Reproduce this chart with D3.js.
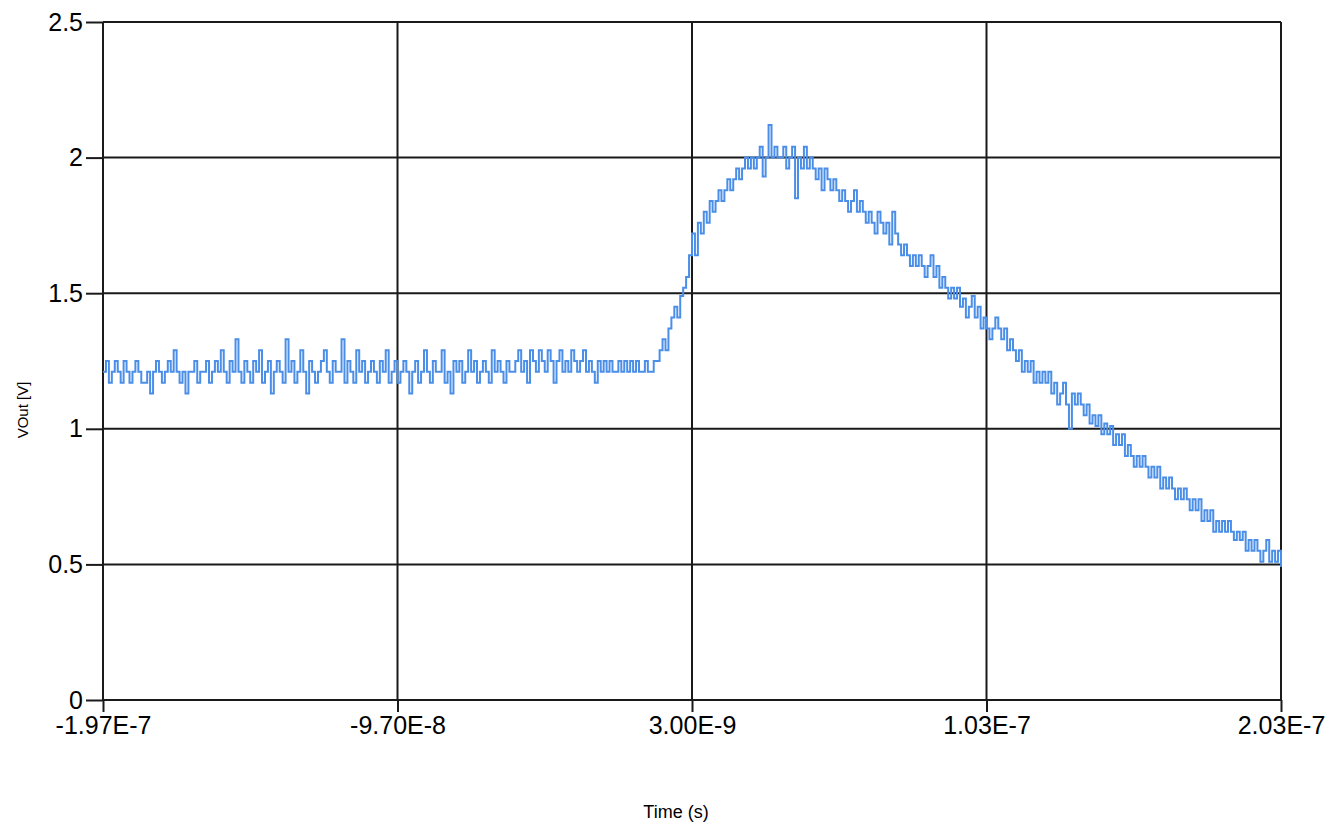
<!DOCTYPE html>
<html>
<head>
<meta charset="utf-8">
<script src="https://cdn.jsdelivr.net/npm/d3@7"></script>
<style>
  body { margin: 0; background: #fff; }
  .axis text { font-family: "Liberation Sans", Arial, sans-serif; fill: #000; }
  .axis path { display: none; }
</style>
</head>
<body>
<div id="chart"></div>
<script>
// sampling of the scope trace (1 ns per sample)
const tStart = -1.97e-7;
const tStep = 1e-9;

// VOut samples [V], 10 per row
const vOut = [
  1.21,1.25,1.17,1.21,1.25,1.21,1.17,1.25,1.21,1.17,
  1.21,1.25,1.21,1.17,1.17,1.21,1.13,1.21,1.25,1.21,
  1.17,1.21,1.25,1.21,1.29,1.21,1.17,1.21,1.13,1.21,
  1.21,1.25,1.17,1.21,1.21,1.25,1.17,1.21,1.25,1.21,
  1.29,1.21,1.17,1.25,1.21,1.33,1.21,1.17,1.25,1.21,
  1.17,1.25,1.21,1.29,1.17,1.21,1.25,1.13,1.21,1.25,
  1.21,1.17,1.33,1.21,1.25,1.17,1.21,1.29,1.21,1.13,
  1.25,1.21,1.17,1.21,1.25,1.29,1.21,1.17,1.25,1.21,
  1.21,1.33,1.17,1.25,1.21,1.17,1.29,1.21,1.25,1.17,
  1.21,1.25,1.21,1.17,1.25,1.21,1.29,1.17,1.21,1.25,
  1.17,1.21,1.25,1.21,1.13,1.21,1.25,1.17,1.21,1.29,
  1.21,1.17,1.25,1.21,1.21,1.29,1.17,1.21,1.13,1.25,
  1.21,1.25,1.17,1.21,1.29,1.21,1.25,1.17,1.21,1.25,
  1.21,1.17,1.29,1.21,1.25,1.21,1.17,1.25,1.21,1.21,
  1.25,1.29,1.21,1.25,1.17,1.29,1.25,1.21,1.29,1.25,
  1.21,1.29,1.25,1.17,1.25,1.29,1.21,1.25,1.21,1.29,
  1.25,1.21,1.25,1.29,1.21,1.25,1.21,1.17,1.25,1.21,
  1.25,1.21,1.25,1.21,1.21,1.25,1.21,1.25,1.21,1.25,
  1.21,1.25,1.21,1.21,1.25,1.21,1.21,1.25,1.25,1.29,
  1.33,1.29,1.37,1.41,1.45,1.41,1.49,1.52,1.56,1.64,
  1.72,1.64,1.76,1.72,1.80,1.76,1.84,1.80,1.84,1.88,
  1.84,1.88,1.92,1.88,1.92,1.96,1.92,1.96,2.00,1.96,
  2.00,1.96,2.00,2.04,1.93,2.00,2.12,2.00,2.04,2.00,
  2.00,2.04,1.96,2.00,2.04,1.85,2.00,1.96,2.04,1.96,
  2.00,1.96,1.92,1.96,1.88,1.96,1.92,1.88,1.92,1.88,
  1.84,1.88,1.84,1.80,1.84,1.88,1.80,1.84,1.80,1.76,
  1.80,1.76,1.72,1.80,1.76,1.72,1.76,1.68,1.80,1.72,
  1.68,1.64,1.68,1.64,1.60,1.64,1.60,1.64,1.60,1.56,
  1.60,1.64,1.56,1.60,1.52,1.56,1.52,1.48,1.52,1.48,
  1.52,1.45,1.48,1.41,1.45,1.49,1.41,1.45,1.37,1.41,
  1.37,1.33,1.37,1.41,1.37,1.33,1.37,1.29,1.33,1.29,
  1.25,1.29,1.21,1.25,1.21,1.25,1.17,1.21,1.17,1.21,
  1.17,1.21,1.13,1.17,1.09,1.13,1.17,1.09,1.00,1.13,
  1.09,1.13,1.09,1.05,1.09,1.02,1.05,1.01,1.05,0.98,
  1.02,0.98,1.01,0.94,0.98,0.94,0.98,0.90,0.94,0.90,
  0.86,0.90,0.86,0.90,0.86,0.82,0.86,0.82,0.86,0.78,
  0.82,0.78,0.82,0.78,0.74,0.78,0.74,0.78,0.74,0.70,
  0.74,0.70,0.74,0.66,0.70,0.66,0.70,0.62,0.66,0.62,
  0.66,0.62,0.66,0.62,0.59,0.62,0.59,0.62,0.55,0.59,
  0.55,0.59,0.55,0.51,0.55,0.59,0.51,0.55,0.51,0.55,
  0.49
];

const xTicks = [-1.97e-7, -9.7e-8, 3e-9, 1.03e-7, 2.03e-7];
const xTickLabels = ['-1.97E-7', '-9.70E-8', '3.00E-9', '1.03E-7', '2.03E-7'];
const yTicks = [0, 0.5, 1, 1.5, 2, 2.5];
const yTickLabels = ['0', '0.5', '1', '1.5', '2', '2.5'];

const width = 1338;
const height = 825;
const margin = { top: 22, right: 57, bottom: 125, left: 103 };
const w = width - margin.left - margin.right;
const h = height - margin.top - margin.bottom;

const data = vOut.map((v, i) => ({ t: tStart + i * tStep, v: v }));

const svg = d3.select('#chart').append('svg')
  .attr('width', width)
  .attr('height', height);

const chart = svg.append('g')
  .attr('transform', `translate(${margin.left}, ${margin.top})`);

const x = d3.scaleLinear().domain([xTicks[0], xTicks[xTicks.length - 1]]).range([0, w]);
const y = d3.scaleLinear().domain([0, 2.5]).range([h, 0]);

// grid
chart.append('g').selectAll('line.vg')
  .data(xTicks)
  .enter().append('line')
  .attr('x1', d => x(d)).attr('x2', d => x(d))
  .attr('y1', 0).attr('y2', h)
  .attr('stroke', '#1a1a1a').attr('stroke-width', 2);

chart.append('g').selectAll('line.hg')
  .data(yTicks)
  .enter().append('line')
  .attr('x1', 0).attr('x2', w)
  .attr('y1', d => y(d)).attr('y2', d => y(d))
  .attr('stroke', '#1a1a1a').attr('stroke-width', 2);

// trace (sample-and-hold look like the scope software)
chart.append('path')
  .datum(data)
  .attr('fill', 'none')
  .attr('stroke', '#4a8ee8')
  .attr('stroke-width', 2)
  .attr('d', d3.line().curve(d3.curveStepAfter).x(d => x(d.t)).y(d => y(d.v)));

// axes
const xAxis = chart.append('g')
  .attr('class', 'axis')
  .attr('transform', `translate(0, ${h})`)
  .call(d3.axisBottom(x).tickValues(xTicks).tickSize(12).tickPadding(4)
    .tickFormat((d, i) => xTickLabels[i]));
xAxis.selectAll('line').attr('stroke', '#1a1a1a').attr('stroke-width', 2);
xAxis.selectAll('text').style('font-size', '25px');

const yAxis = chart.append('g')
  .attr('class', 'axis')
  .call(d3.axisLeft(y).tickValues(yTicks).tickSize(17).tickPadding(3)
    .tickFormat((d, i) => yTickLabels[i]));
yAxis.selectAll('line').attr('stroke', '#1a1a1a').attr('stroke-width', 2);
yAxis.selectAll('text').style('font-size', '25px');

// axis titles
svg.append('text')
  .attr('x', 676)
  .attr('y', 818)
  .style('text-anchor', 'middle')
  .style('font-family', '"Liberation Sans", Arial, sans-serif')
  .style('font-size', '18px')
  .text('Time (s)');

svg.append('text')
  .attr('transform', 'translate(28, 410) rotate(-90)')
  .style('text-anchor', 'middle')
  .style('font-family', '"Liberation Sans", Arial, sans-serif')
  .style('font-size', '15px')
  .text('VOut [V]');
</script>
</body>
</html>
